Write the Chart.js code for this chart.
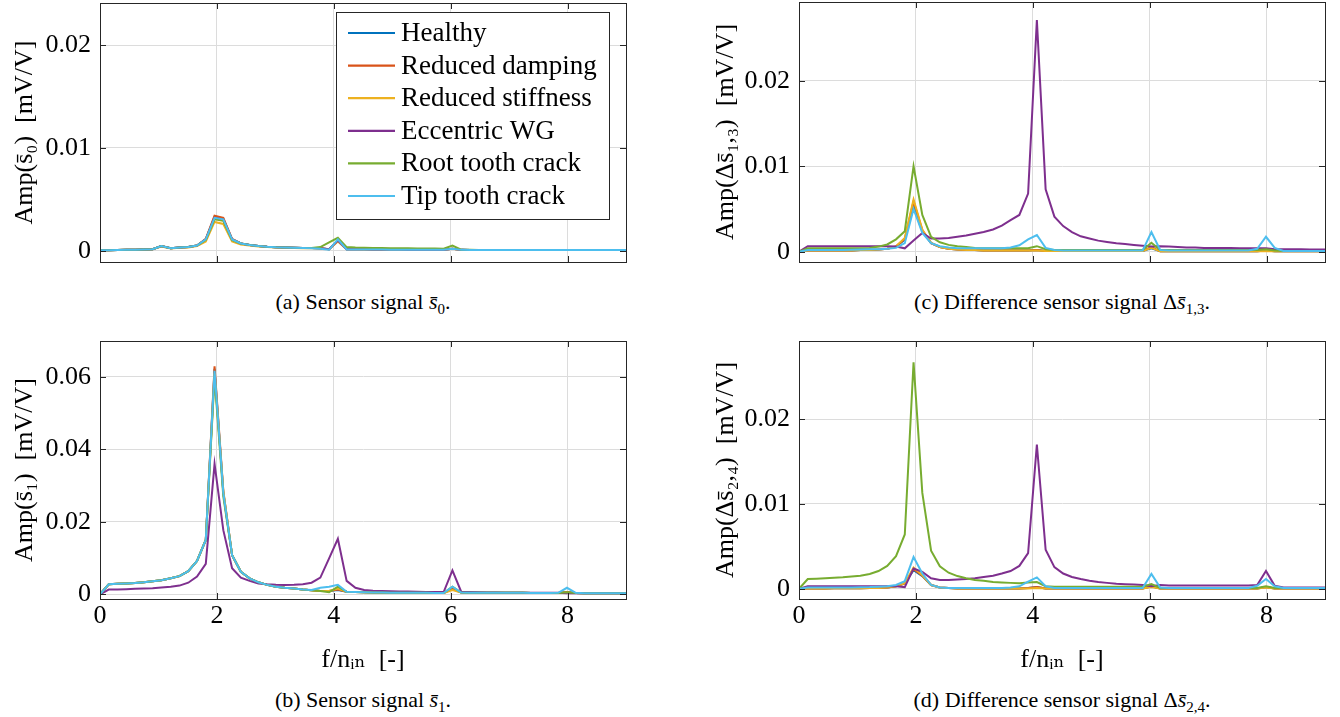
<!DOCTYPE html>
<html>
<head>
<meta charset="utf-8">
<script src="https://cdn.jsdelivr.net/npm/chart.js@4.4.1/dist/chart.umd.min.js"></script>
<style>
  body { margin: 0; background: #fff; }
  #wrap { position: relative; width: 1340px; height: 717px; overflow: hidden; }
  canvas { position: absolute; }
  .cap { position: absolute; width: 526px; text-align: center; font: 22px 'Liberation Serif', 'DejaVu Serif', serif; line-height: 26px; color: #000; }
  .cap sub { font-size: 15px; line-height: 0; }
</style>
</head>
<body>
<div id="wrap">
  <canvas id="chartA" width="640" height="275" style="left:0;top:0"></canvas>
  <canvas id="chartC" width="640" height="275" style="left:700px;top:0"></canvas>
  <canvas id="chartB" width="640" height="350" style="left:0;top:330px"></canvas>
  <canvas id="chartD" width="640" height="350" style="left:700px;top:330px"></canvas>
  <div class="cap" style="left:100px;top:289px">(a) Sensor signal <i>s̄</i><sub>0</sub>.</div>
  <div class="cap" style="left:799px;top:289px">(c) Difference sensor signal Δ<i>s̄</i><sub>1,3</sub>.</div>
  <div class="cap" style="left:100px;top:687px">(b) Sensor signal <i>s̄</i><sub>1</sub>.</div>
  <div class="cap" style="left:799px;top:687px">(d) Difference sensor signal Δ<i>s̄</i><sub>2,4</sub>.</div>
</div>
<script>
// frequency bins f/n_in
const freq = [
  0, 0.15, 0.30, 0.45, 0.60, 0.75, 0.90, 1.05, 1.21, 1.36,
  1.51, 1.66, 1.81, 1.96, 2.11, 2.26, 2.41, 2.56, 2.71, 2.86,
  3.01, 3.16, 3.32, 3.47, 3.62, 3.77, 3.92, 4.07, 4.22, 4.37,
  4.52, 4.67, 4.82, 4.97, 5.12, 5.27, 5.43, 5.58, 5.73, 5.88,
  6.03, 6.18, 6.33, 6.48, 6.63, 6.78, 6.93, 7.08, 7.23, 7.38,
  7.54, 7.69, 7.84, 7.99, 8.14, 8.29, 8.44, 8.59, 8.74, 8.89, 9.04
];
const xTicks = [0, 2, 4, 6, 8];

const names = ['Healthy', 'Reduced damping', 'Reduced stiffness', 'Eccentric WG', 'Root tooth crack', 'Tip tooth crack'];
const colors = ['#0072BD', '#D95319', '#EDB120', '#7E2F8E', '#77AC30', '#4DBEEE'];

// all amplitudes below in 1e-3 mV/V

// (a) sensor signal s0
const s0Healthy = [
  0.05, 0.05, 0.06, 0.08, 0.1, 0.12, 0.15, 0.45, 0.25, 0.3,
  0.35, 0.5, 1.1, 3.3, 3.1, 1.1, 0.7, 0.55, 0.45, 0.38,
  0.33, 0.3, 0.28, 0.26, 0.25, 0.24, 0.15, 1.0, 0.15, 0.15,
  0.13, 0.12, 0.12, 0.11, 0.11, 0.1, 0.1, 0.1, 0.1, 0.1,
  0.2, 0.08, 0.07, 0.07, 0.07, 0.06, 0.06, 0.06, 0.06, 0.06,
  0.06, 0.06, 0.06, 0.06, 0.06, 0.06, 0.06, 0.06, 0.06, 0.06, 0.06
];
const s0Damping = [
  0.05, 0.05, 0.06, 0.08, 0.1, 0.12, 0.15, 0.45, 0.25, 0.3,
  0.35, 0.5, 1.15, 3.4, 3.2, 1.15, 0.7, 0.55, 0.45, 0.38,
  0.33, 0.3, 0.28, 0.26, 0.25, 0.24, 0.15, 1.0, 0.15, 0.15,
  0.13, 0.12, 0.12, 0.11, 0.11, 0.1, 0.1, 0.1, 0.1, 0.1,
  0.2, 0.08, 0.07, 0.07, 0.07, 0.06, 0.06, 0.06, 0.06, 0.06,
  0.06, 0.06, 0.06, 0.06, 0.06, 0.06, 0.06, 0.06, 0.06, 0.06, 0.06
];
const s0Stiffness = [
  0.05, 0.05, 0.06, 0.08, 0.1, 0.12, 0.15, 0.4, 0.22, 0.28,
  0.32, 0.45, 0.9, 2.8, 2.6, 0.9, 0.6, 0.5, 0.4, 0.35,
  0.3, 0.28, 0.26, 0.24, 0.23, 0.22, 0.15, 0.9, 0.15, 0.14,
  0.12, 0.11, 0.11, 0.1, 0.1, 0.1, 0.1, 0.1, 0.1, 0.1,
  0.18, 0.07, 0.07, 0.07, 0.06, 0.06, 0.06, 0.06, 0.06, 0.06,
  0.06, 0.06, 0.06, 0.06, 0.06, 0.06, 0.06, 0.06, 0.06, 0.06, 0.06
];
const s0Eccentric = [
  0.05, 0.05, 0.06, 0.08, 0.1, 0.12, 0.15, 0.45, 0.25, 0.3,
  0.35, 0.5, 1.1, 3.2, 3.0, 1.1, 0.7, 0.55, 0.45, 0.38,
  0.33, 0.3, 0.28, 0.26, 0.25, 0.24, 0.15, 1.0, 0.15, 0.15,
  0.13, 0.12, 0.12, 0.11, 0.11, 0.1, 0.1, 0.1, 0.1, 0.1,
  0.2, 0.08, 0.07, 0.07, 0.07, 0.06, 0.06, 0.06, 0.06, 0.06,
  0.06, 0.06, 0.06, 0.06, 0.06, 0.06, 0.06, 0.06, 0.06, 0.06, 0.06
];
const s0Root = [
  0.05, 0.05, 0.06, 0.08, 0.1, 0.12, 0.15, 0.45, 0.25, 0.3,
  0.35, 0.5, 1.05, 3.05, 2.9, 1.05, 0.7, 0.55, 0.45, 0.38,
  0.33, 0.3, 0.28, 0.27, 0.27, 0.35, 0.8, 1.25, 0.35, 0.3,
  0.28, 0.27, 0.26, 0.25, 0.24, 0.23, 0.22, 0.22, 0.21, 0.2,
  0.5, 0.1, 0.08, 0.07, 0.07, 0.06, 0.06, 0.06, 0.06, 0.06,
  0.06, 0.06, 0.06, 0.06, 0.06, 0.06, 0.06, 0.06, 0.06, 0.06, 0.06
];
const s0Tip = [
  0.05, 0.05, 0.06, 0.08, 0.1, 0.12, 0.15, 0.45, 0.25, 0.3,
  0.35, 0.5, 1.1, 3.2, 3.05, 1.1, 0.7, 0.55, 0.45, 0.38,
  0.33, 0.3, 0.28, 0.26, 0.24, 0.2, 0.1, 1.1, 0.12, 0.12,
  0.12, 0.11, 0.11, 0.1, 0.1, 0.1, 0.1, 0.1, 0.1, 0.1,
  0.2, 0.08, 0.07, 0.07, 0.07, 0.06, 0.06, 0.06, 0.06, 0.06,
  0.06, 0.06, 0.06, 0.06, 0.06, 0.06, 0.06, 0.06, 0.06, 0.06, 0.06
];

// (b) sensor signal s1
const s1Healthy = [
  0, 2.75, 2.9, 3.0, 3.1, 3.3, 3.6, 3.9, 4.4, 5.0,
  6.4, 9.2, 15, 62.2, 28, 10.8, 6.2, 4.4, 3.3, 2.6,
  2.1, 1.8, 1.6, 1.3, 1.1, 0.9, 0.9, 1.2, 0.7, 0.65,
  0.55, 0.5, 0.5, 0.45, 0.45, 0.4, 0.4, 0.4, 0.35, 0.35,
  1.5, 0.5, 0.45, 0.45, 0.4, 0.4, 0.4, 0.4, 0.4, 0.35,
  0.35, 0.35, 0.35, 0.6, 0.35, 0.3, 0.3, 0.3, 0.3, 0.3, 0.3
];
const s1Damping = [
  0, 2.75, 2.9, 3.0, 3.1, 3.3, 3.6, 3.9, 4.4, 5.0,
  6.4, 9.2, 15, 62.9, 28.5, 10.8, 6.2, 4.4, 3.3, 2.6,
  2.1, 1.8, 1.6, 1.3, 1.1, 0.9, 0.9, 1.3, 0.7, 0.65,
  0.55, 0.5, 0.5, 0.45, 0.45, 0.4, 0.4, 0.4, 0.35, 0.35,
  1.5, 0.5, 0.45, 0.45, 0.4, 0.4, 0.4, 0.4, 0.4, 0.35,
  0.35, 0.35, 0.35, 0.6, 0.35, 0.3, 0.3, 0.3, 0.3, 0.3, 0.3
];
const s1Stiffness = [
  0, 2.75, 2.9, 3.0, 3.1, 3.3, 3.6, 3.9, 4.4, 5.0,
  6.4, 9.2, 15, 61.0, 28.5, 10.8, 6.2, 4.4, 3.3, 2.6,
  2.1, 1.8, 1.6, 1.3, 1.1, 0.9, 0.9, 1.6, 0.7, 0.65,
  0.55, 0.5, 0.5, 0.45, 0.45, 0.4, 0.4, 0.4, 0.35, 0.35,
  1.2, 0.5, 0.45, 0.45, 0.4, 0.4, 0.4, 0.4, 0.4, 0.35,
  0.35, 0.35, 0.35, 0.5, 0.35, 0.3, 0.3, 0.3, 0.3, 0.3, 0.3
];
const s1Eccentric = [
  0, 1.3, 1.35, 1.4, 1.5, 1.6, 1.7, 1.9, 2.1, 2.4,
  3.2, 4.9, 8.4, 36, 17.7, 7.2, 4.6, 3.7, 3.0, 2.75,
  2.6, 2.55, 2.6, 2.8, 3.2, 4.6, 9.9, 15.3, 3.7, 1.8,
  1.2, 1.0, 0.9, 0.85, 0.8, 0.75, 0.7, 0.65, 0.6, 0.6,
  6.6, 0.7, 0.6, 0.55, 0.5, 0.5, 0.45, 0.45, 0.45, 0.4,
  0.4, 0.4, 0.4, 0.3, 0.35, 0.3, 0.3, 0.3, 0.3, 0.3, 0.3
];
const s1Root = [
  0, 2.75, 2.9, 3.0, 3.1, 3.3, 3.6, 3.9, 4.4, 5.0,
  6.4, 9.2, 15, 60.0, 27, 10.8, 6.2, 4.4, 3.3, 2.6,
  2.1, 1.8, 1.6, 1.3, 1.1, 0.9, 0.55, 2.1, 0.7, 0.65,
  0.55, 0.5, 0.5, 0.45, 0.45, 0.4, 0.4, 0.4, 0.35, 0.35,
  2.1, 0.5, 0.45, 0.45, 0.4, 0.4, 0.4, 0.4, 0.4, 0.35,
  0.35, 0.35, 0.35, 0.55, 0.35, 0.3, 0.3, 0.3, 0.3, 0.3, 0.3
];
const s1Tip = [
  0, 2.75, 2.9, 3.0, 3.1, 3.3, 3.6, 3.9, 4.4, 5.0,
  6.4, 9.2, 15, 61.7, 28, 10.8, 6.2, 4.4, 3.3, 2.6,
  2.1, 1.8, 1.6, 1.3, 1.2, 1.8, 2.1, 2.6, 0.7, 0.65,
  0.55, 0.5, 0.5, 0.45, 0.45, 0.4, 0.4, 0.4, 0.35, 0.35,
  2.1, 0.5, 0.45, 0.45, 0.4, 0.4, 0.4, 0.4, 0.4, 0.35,
  0.35, 0.35, 0.4, 1.8, 0.4, 0.3, 0.3, 0.3, 0.3, 0.3, 0.3
];

// (c) difference sensor signal ds13
const d13Healthy = [
  0, 0.15, 0.15, 0.15, 0.15, 0.15, 0.15, 0.2, 0.2, 0.25,
  0.35, 0.6, 1.4, 5.3, 2.4, 1.0, 0.55, 0.35, 0.25, 0.2,
  0.2, 0.15, 0.15, 0.15, 0.15, 0.15, 0.15, 0.2, 0.1, 0.1,
  0.1, 0.1, 0.1, 0.1, 0.1, 0.1, 0.1, 0.1, 0.1, 0.1,
  0.4, 0.05, 0.05, 0.05, 0.05, 0.05, 0.05, 0.05, 0.05, 0.05,
  0.05, 0.05, 0.05, 0.15, 0.05, 0.05, 0.05, 0.05, 0.05, 0.05, 0.05
];
const d13Damping = [
  0, 0.15, 0.15, 0.15, 0.15, 0.15, 0.15, 0.2, 0.2, 0.25,
  0.35, 0.6, 1.5, 5.9, 2.5, 1.0, 0.55, 0.35, 0.25, 0.2,
  0.2, 0.15, 0.15, 0.15, 0.15, 0.15, 0.15, 0.2, 0.1, 0.1,
  0.1, 0.1, 0.1, 0.1, 0.1, 0.1, 0.1, 0.1, 0.1, 0.1,
  0.55, 0.05, 0.05, 0.05, 0.05, 0.05, 0.05, 0.05, 0.05, 0.05,
  0.05, 0.05, 0.05, 0.15, 0.05, 0.05, 0.05, 0.05, 0.05, 0.05, 0.05
];
const d13Stiffness = [
  0, 0.15, 0.15, 0.15, 0.15, 0.15, 0.15, 0.2, 0.2, 0.25,
  0.35, 0.65, 1.6, 6.1, 2.6, 1.05, 0.55, 0.35, 0.25, 0.2,
  0.2, 0.15, 0.15, 0.15, 0.15, 0.15, 0.15, 0.15, 0.1, 0.1,
  0.1, 0.1, 0.1, 0.1, 0.1, 0.1, 0.1, 0.1, 0.1, 0.1,
  0.45, 0.05, 0.05, 0.05, 0.05, 0.05, 0.05, 0.05, 0.05, 0.05,
  0.05, 0.05, 0.05, 0.1, 0.05, 0.05, 0.05, 0.05, 0.05, 0.05, 0.05
];
const d13Eccentric = [
  0, 0.65, 0.65, 0.65, 0.65, 0.65, 0.65, 0.65, 0.65, 0.65,
  0.65, 0.6, 0.4, 1.3, 2.2, 1.55, 1.55, 1.6, 1.75, 1.9,
  2.1, 2.3, 2.6, 3.05, 3.7, 4.3, 6.8, 27.1, 7.3, 4.1,
  3.0, 2.3, 1.8, 1.55, 1.3, 1.15, 1.0, 0.9, 0.8, 0.7,
  0.6, 0.65, 0.6, 0.55, 0.5, 0.5, 0.45, 0.45, 0.45, 0.45,
  0.4, 0.4, 0.4, 0.4, 0.3, 0.3, 0.3, 0.3, 0.27, 0.27, 0.27
];
const d13Root = [
  0, 0.4, 0.4, 0.4, 0.4, 0.4, 0.4, 0.42, 0.45, 0.6,
  0.85, 1.45, 2.4, 10.0, 4.3, 1.75, 1.1, 0.8, 0.65, 0.55,
  0.45, 0.4, 0.4, 0.4, 0.4, 0.4, 0.4, 0.65, 0.3, 0.2,
  0.2, 0.2, 0.2, 0.2, 0.2, 0.2, 0.2, 0.2, 0.2, 0.2,
  1.05, 0.2, 0.2, 0.2, 0.2, 0.2, 0.2, 0.2, 0.2, 0.2,
  0.2, 0.2, 0.2, 0.3, 0.15, 0.1, 0.1, 0.1, 0.1, 0.1, 0.1
];
const d13Tip = [
  0, 0.2, 0.2, 0.2, 0.2, 0.2, 0.22, 0.25, 0.28, 0.3,
  0.35, 0.45, 1.0, 5.0, 2.2, 1.0, 0.65, 0.5, 0.4, 0.4,
  0.4, 0.4, 0.4, 0.4, 0.5, 0.75, 1.45, 1.95, 0.45, 0.2,
  0.15, 0.15, 0.15, 0.15, 0.15, 0.15, 0.15, 0.15, 0.15, 0.15,
  2.3, 0.2, 0.15, 0.15, 0.15, 0.15, 0.15, 0.15, 0.15, 0.15,
  0.15, 0.15, 0.35, 1.75, 0.45, 0.1, 0.1, 0.1, 0.1, 0.1, 0.1
];

// (d) difference sensor signal ds24
const d24Healthy = [
  0, 0.05, 0.05, 0.05, 0.06, 0.06, 0.07, 0.08, 0.09, 0.1,
  0.15, 0.3, 0.65, 2.2, 1.5, 0.45, 0.15, 0.1, 0.05, 0.05,
  0.05, 0.05, 0.05, 0.05, 0.05, 0.05, 0.1, 0.2, 0.05, 0.05,
  0.05, 0.05, 0.05, 0.05, 0.05, 0.05, 0.05, 0.05, 0.05, 0.05,
  0.3, 0.05, 0.05, 0.05, 0.05, 0.05, 0.05, 0.05, 0.05, 0.05,
  0.05, 0.05, 0.05, 0.2, 0.05, 0.05, 0.05, 0.05, 0.05, 0.05, 0.05
];
const d24Damping = [
  0, 0.05, 0.05, 0.05, 0.06, 0.06, 0.07, 0.08, 0.09, 0.1,
  0.15, 0.3, 0.65, 2.3, 1.55, 0.45, 0.15, 0.1, 0.05, 0.05,
  0.05, 0.05, 0.05, 0.05, 0.05, 0.05, 0.1, 0.2, 0.05, 0.05,
  0.05, 0.05, 0.05, 0.05, 0.05, 0.05, 0.05, 0.05, 0.05, 0.05,
  0.3, 0.05, 0.05, 0.05, 0.05, 0.05, 0.05, 0.05, 0.05, 0.05,
  0.05, 0.05, 0.05, 0.2, 0.05, 0.05, 0.05, 0.05, 0.05, 0.05, 0.05
];
const d24Stiffness = [
  0, 0.05, 0.05, 0.05, 0.06, 0.06, 0.07, 0.08, 0.09, 0.1,
  0.15, 0.3, 0.65, 2.5, 1.6, 0.45, 0.15, 0.1, 0.05, 0.05,
  0.05, 0.05, 0.05, 0.05, 0.05, 0.05, 0.05, 0.1, 0.05, 0.05,
  0.05, 0.05, 0.05, 0.05, 0.05, 0.05, 0.05, 0.05, 0.05, 0.05,
  0.2, 0.05, 0.05, 0.05, 0.05, 0.05, 0.05, 0.05, 0.05, 0.05,
  0.05, 0.05, 0.05, 0.15, 0.05, 0.05, 0.05, 0.05, 0.05, 0.05, 0.05
];
const d24Eccentric = [
  0, 0.3, 0.3, 0.3, 0.3, 0.3, 0.3, 0.3, 0.3, 0.3,
  0.3, 0.3, 0.2, 2.4, 2.0, 1.25, 1.05, 1.05, 1.1, 1.15,
  1.25, 1.4, 1.55, 1.8, 2.1, 2.7, 4.2, 17.0, 4.6, 2.55,
  1.8, 1.4, 1.15, 0.95, 0.8, 0.7, 0.6, 0.55, 0.5, 0.45,
  0.3, 0.45, 0.4, 0.4, 0.4, 0.4, 0.4, 0.4, 0.4, 0.4,
  0.4, 0.4, 0.45, 2.1, 0.35, 0.15, 0.15, 0.15, 0.15, 0.15, 0.15
];
const d24Root = [
  0, 1.15, 1.2, 1.25, 1.3, 1.35, 1.45, 1.55, 1.75, 2.1,
  2.7, 3.85, 6.4, 26.7, 11.3, 4.5, 2.65, 1.9, 1.5, 1.25,
  1.05, 0.95, 0.8, 0.75, 0.7, 0.65, 0.75, 0.8, 0.3, 0.25,
  0.25, 0.25, 0.25, 0.25, 0.25, 0.25, 0.25, 0.25, 0.25, 0.25,
  0.55, 0.1, 0.1, 0.1, 0.1, 0.1, 0.1, 0.1, 0.1, 0.1,
  0.1, 0.1, 0.1, 0.3, 0.1, 0.1, 0.1, 0.1, 0.1, 0.1, 0.1
];
const d24Tip = [
  0, 0.15, 0.15, 0.15, 0.15, 0.15, 0.15, 0.18, 0.2, 0.25,
  0.3, 0.45, 0.9, 3.75, 1.8, 0.45, 0.15, 0.1, 0.1, 0.1,
  0.1, 0.1, 0.1, 0.1, 0.15, 0.3, 0.85, 1.35, 0.3, 0.1,
  0.1, 0.1, 0.1, 0.1, 0.1, 0.1, 0.1, 0.1, 0.1, 0.1,
  1.75, 0.15, 0.1, 0.1, 0.1, 0.1, 0.1, 0.1, 0.1, 0.1,
  0.1, 0.1, 0.35, 1.15, 0.3, 0.1, 0.1, 0.1, 0.1, 0.1, 0.1
];

const FONT = "'Liberation Serif', 'DejaVu Serif', serif";
Chart.defaults.font.family = FONT;
Chart.defaults.color = '#000';

// box round the axes, with small inward ticks like matlab
const frame = {
  id: 'frame',
  afterDraw(chart) {
    const { ctx, chartArea: a, scales } = chart;
    ctx.save();
    ctx.strokeStyle = '#262626';
    ctx.lineWidth = 1;
    ctx.beginPath();
    scales.y.ticks.forEach(t => {
      const y = Math.round(scales.y.getPixelForValue(t.value)) + 0.5;
      ctx.moveTo(a.left, y); ctx.lineTo(a.left + 6, y);
      ctx.moveTo(a.right, y); ctx.lineTo(a.right - 6, y);
    });
    scales.x.ticks.forEach(t => {
      const x = Math.round(scales.x.getPixelForValue(t.value)) + 0.5;
      ctx.moveTo(x, a.bottom); ctx.lineTo(x, a.bottom - 6);
      ctx.moveTo(x, a.top); ctx.lineTo(x, a.top + 6);
    });
    ctx.stroke();
    ctx.strokeRect(Math.round(a.left) + 0.5, Math.round(a.top) + 0.5, Math.round(a.right - a.left), Math.round(a.bottom - a.top));
    ctx.restore();
  }
};

// legend box inside panel (a)
const legendBox = {
  id: 'legendBox',
  afterDraw(chart, args, opts) {
    if (!opts.show) return;
    const { ctx, chartArea: a } = chart;
    const left = a.left + 236, top = a.top + 9, w = 273, h = 207;
    ctx.save();
    ctx.fillStyle = '#fff';
    ctx.fillRect(left, top, w, h);
    ctx.strokeStyle = '#262626';
    ctx.lineWidth = 1;
    ctx.strokeRect(left + 0.5, top + 0.5, w, h);
    ctx.font = '27px ' + FONT;
    ctx.textBaseline = 'middle';
    chart.data.datasets.forEach((ds, i) => {
      const y = top + 21 + i * 32.6;
      ctx.strokeStyle = ds.borderColor;
      ctx.lineWidth = 2.2;
      ctx.beginPath();
      ctx.moveTo(left + 12, y); ctx.lineTo(left + 59, y);
      ctx.stroke();
      ctx.fillStyle = '#000';
      ctx.fillText(ds.label, left + 65, y + 1);
    });
    ctx.restore();
  }
};

function makeChart(id, series, cfg) {
  const datasets = series.map((vals, i) => ({
    label: names[i],
    data: vals.map((v, k) => ({ x: freq[k], y: v / 1000 })),
    borderColor: colors[i],
    backgroundColor: colors[i],
    borderWidth: 2,
    pointRadius: 0,
    tension: 0,
    order: series.length - i
  }));
  const canvas = document.getElementById(id);
  new Chart(canvas, {
    type: 'line',
    data: { datasets },
    plugins: [frame, legendBox],
    options: {
      responsive: false,
      animation: false,
      layout: { padding: { top: cfg.padTop, right: cfg.padRight, left: 0, bottom: 0 } },
      plugins: {
        legend: { display: false },
        tooltip: { enabled: false },
        legendBox: { show: !!cfg.legend }
      },
      scales: {
        x: {
          type: 'linear',
          min: 0,
          max: 9,
          afterBuildTicks: s => { s.ticks = xTicks.map(v => ({ value: v })); },
          afterFit: s => { s.height = cfg.xHeight; s.paddingLeft = 0; s.paddingRight = 0; },
          grid: { color: '#dcdcdc', drawTicks: false },
          border: { color: '#262626' },
          ticks: { display: cfg.xLabels, padding: 2, font: { size: 26 }, callback: v => String(v) },
          title: {
            display: cfg.xLabels,
            text: 'f/nᵢₙ  [-]',
            font: { size: 26 },
            padding: { top: 0, bottom: 4 }
          }
        },
        y: {
          min: cfg.yMin,
          max: cfg.yMax,
          afterBuildTicks: s => { s.ticks = cfg.yTicks.map(v => ({ value: v })); },
          afterFit: s => { s.width = cfg.yWidth; s.paddingTop = 0; s.paddingBottom = 0; },
          grid: { color: '#dcdcdc', drawTicks: false },
          border: { color: '#262626' },
          ticks: { padding: 9, font: { size: 26 }, callback: v => v === 0 ? '0' : String(+v.toFixed(3)) },
          title: {
            display: true,
            text: cfg.yTitle,
            font: { size: 26 },
            padding: { top: cfg.yTitlePad, bottom: 0 }
          }
        }
      }
    }
  });
}

makeChart('chartA', [s0Healthy, s0Damping, s0Stiffness, s0Eccentric, s0Root, s0Tip], {
  yMin: -0.0011, yMax: 0.0241, yTicks: [0, 0.01, 0.02], yTitle: 'Amp(s̄₀)  [mV/V]',
  padTop: 3, padRight: 14, xHeight: 13, yWidth: 100, yTitlePad: 10, xLabels: false, legend: true
});
makeChart('chartB', [s1Healthy, s1Damping, s1Stiffness, s1Eccentric, s1Root, s1Tip], {
  yMin: -0.0013, yMax: 0.0699, yTicks: [0, 0.02, 0.04, 0.06], yTitle: 'Amp(s̄₁)  [mV/V]',
  padTop: 11, padRight: 14, xHeight: 81, yWidth: 100, yTitlePad: 10, xLabels: true
});
makeChart('chartC', [d13Healthy, d13Damping, d13Stiffness, d13Eccentric, d13Root, d13Tip], {
  yMin: -0.0012, yMax: 0.0292, yTicks: [0, 0.01, 0.02], yTitle: 'Amp(Δs̄₁,₃)  [mV/V]',
  padTop: 2, padRight: 15, xHeight: 13, yWidth: 99, yTitlePad: 11, xLabels: false
});
makeChart('chartD', [d24Healthy, d24Damping, d24Stiffness, d24Eccentric, d24Root, d24Tip], {
  yMin: -0.0012, yMax: 0.0292, yTicks: [0, 0.01, 0.02], yTitle: 'Amp(Δs̄₂,₄)  [mV/V]',
  padTop: 11, padRight: 15, xHeight: 81, yWidth: 99, yTitlePad: 11, xLabels: true
});
</script>
</body>
</html>
